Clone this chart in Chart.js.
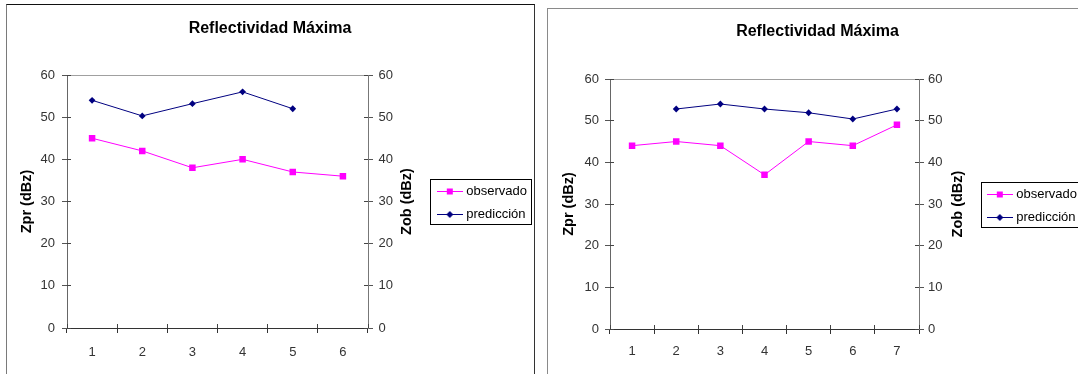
<!DOCTYPE html>
<html>
<head>
<meta charset="utf-8">
<script src="https://cdn.jsdelivr.net/npm/chart.js@4.4.1/dist/chart.umd.min.js"></script>
<style>
  html, body { margin: 0; padding: 0; width: 1078px; height: 374px; overflow: hidden; background: #fff; }
  .frame { position: absolute; height: 420px; }
  #frameA { left: 6px; top: 4px; width: 527px; border-top: 1px solid #111; border-left: 1px solid #7a7a7a; border-right: 1px solid #333; }
  #frameB { left: 547px; top: 8px; width: 620px; border-top: 1px solid #8a8a8a; border-left: 1px solid #8a8a8a; }
  canvas { position: absolute; }
  #chartA { left: 3px; top: 5px; }
  #chartB { left: 548px; top: 9px; }
</style>
</head>
<body>
<div class="frame" id="frameA"></div>
<div class="frame" id="frameB"></div>
<canvas id="chartA" width="534" height="396"></canvas>
<canvas id="chartB" width="539" height="394"></canvas>
<script>
// Texts shared by both panels
const chartTitle = 'Reflectividad Máxima';
const leftAxisTitle = 'Zpr (dBz)';
const rightAxisTitle = 'Zob (dBz)';
const seriesNames = ['observado', 'predicción'];

// Value axis range (both axes use the same one)
const axisMin = 0;
const axisMax = 60;
const axisStep = 10;

// First panel: six cases
const categoriesA = ['1', '2', '3', '4', '5', '6'];
const observadoA = [45, 42, 38, 40, 37, 36];
const prediccionA = [54, 50.3, 53.2, 56, 52, null];

// Second panel: seven cases
const categoriesB = ['1', '2', '3', '4', '5', '6', '7'];
const observadoB = [44, 45, 44, 37, 45, 44, 49];
const prediccionB = [null, 52.8, 54, 52.8, 51.9, 50.4, 52.8];

const FAMILY = '"Liberation Sans", Arial, sans-serif';
Chart.defaults.font.family = FAMILY;

const COLOR_OBS = '#FF00FF';
const COLOR_PRED = '#000080';

// Small line-with-marker swatch used as the legend symbol
function legendSymbol(color, marker) {
  const c = document.createElement('canvas');
  c.width = 26; c.height = 13;
  const g = c.getContext('2d');
  g.strokeStyle = color;
  g.lineWidth = 1;
  g.beginPath(); g.moveTo(0, 6.5); g.lineTo(26, 6.5); g.stroke();
  g.fillStyle = color;
  g.beginPath();
  if (marker === 'rect') {
    g.rect(10, 3.5, 6, 6);
  } else {
    g.moveTo(13, 3); g.lineTo(16.5, 6.5); g.lineTo(13, 10); g.lineTo(9.5, 6.5); g.closePath();
  }
  g.fill();
  return c;
}

// Cross-through tick halves, the right-hand axis title and the legend frame
const frameDetails = {
  id: 'frameDetails',
  afterDraw(chart, args, opts) {
    const ctx = chart.ctx;
    const area = chart.chartArea;
    const sx = chart.scales.x, sy = chart.scales.y, sy1 = chart.scales.y1;
    const al = p => Math.round(p - 0.5) + 0.5;
    ctx.save();
    ctx.lineWidth = 1;
    ctx.strokeStyle = '#444';
    ctx.beginPath();
    const n = chart.data.labels.length;
    for (let i = 0; i <= n; i++) {
      const px = al(sx.left + (sx.right - sx.left) * i / n);
      ctx.moveTo(px, area.bottom); ctx.lineTo(px, area.bottom - 4);
    }
    sy.ticks.forEach(t => {
      const py = al(sy.getPixelForValue(t.value));
      ctx.moveTo(area.left, py); ctx.lineTo(area.left + 4, py);
    });
    sy1.ticks.forEach(t => {
      const py = al(sy1.getPixelForValue(t.value));
      ctx.moveTo(area.right, py); ctx.lineTo(area.right - 4, py);
    });
    ctx.stroke();

    // right axis title, reading bottom to top like the left one
    const t = sy1.options.title;
    ctx.save();
    ctx.fillStyle = t.color;
    ctx.font = Chart.helpers.toFont(t.font).string;
    ctx.textAlign = 'center';
    ctx.textBaseline = 'middle';
    ctx.translate(area.right + opts.rightTitleOffset, (area.top + area.bottom) / 2);
    ctx.rotate(-Math.PI / 2);
    ctx.fillText(t.text, 0, 0);
    ctx.restore();

    // legend frame
    const hb = chart.legend.legendHitBoxes;
    if (hb && hb.length) {
      const l = hb[0].left - opts.legendInset;
      const top = hb[0].top - 6;
      const r = Math.max(...hb.map(h => h.left + h.width)) + 4;
      const last = hb[hb.length - 1];
      const b = last.top + last.height + 3;
      ctx.strokeStyle = '#000';
      ctx.strokeRect(al(l), al(top), Math.round(r - l), Math.round(b - top));
    }
    ctx.restore();
  }
};

function buildChart(canvasId, categories, observado, prediccion, L) {
  const markers = ['rect', 'rectRot'];
  const colors = [COLOR_OBS, COLOR_PRED];
  return new Chart(document.getElementById(canvasId), {
    type: 'line',
    data: {
      labels: categories,
      datasets: [
        {
          label: seriesNames[0], data: observado, yAxisID: 'y1',
          borderColor: COLOR_OBS, backgroundColor: COLOR_OBS, borderWidth: 1,
          pointStyle: 'rect', pointRadius: 4.6, pointHoverRadius: 4.6, pointBorderWidth: 0,
          tension: 0
        },
        {
          label: seriesNames[1], data: prediccion, yAxisID: 'y',
          borderColor: COLOR_PRED, backgroundColor: COLOR_PRED, borderWidth: 1,
          pointStyle: 'rectRot', pointRadius: 3.4, pointHoverRadius: 3.4, pointBorderWidth: 0,
          tension: 0
        }
      ]
    },
    options: {
      responsive: false,
      animation: false,
      devicePixelRatio: 1,
      events: [],
      layout: { padding: 0 },
      plugins: {
        title: {
          display: true, text: chartTitle, color: '#000',
          font: { size: 16, weight: 'bold', lineHeight: 1.2 },
          padding: { top: L.titleTop, bottom: L.titleBottom }
        },
        legend: {
          position: 'right', align: 'center', maxWidth: 220,
          labels: {
            usePointStyle: true, pointStyleWidth: 20, padding: 10,
            color: '#000', font: { size: 13 },
            generateLabels: chart => chart.data.datasets.map((ds, i) => ({
              text: ds.label,
              pointStyle: legendSymbol(colors[i], markers[i]),
              fillStyle: colors[i], strokeStyle: colors[i], lineWidth: 0,
              hidden: false, datasetIndex: i, fontColor: '#000'
            }))
          }
        },
        tooltip: { enabled: false },
        frameDetails: { rightTitleOffset: L.rightTitleOffset, legendInset: L.legendInset }
      },
      scales: {
        x: {
          type: 'category', offset: true,
          grid: { offset: true, drawOnChartArea: false, tickLength: 5, color: '#333', tickColor: '#333' },
          border: { color: '#333' },
          ticks: { padding: L.xPad, color: '#333', font: { size: 13 }, maxRotation: 0, autoSkip: false },
          afterFit: s => { s.height = L.xHeight; }
        },
        y: {
          position: 'left', min: axisMin, max: axisMax,
          ticks: { stepSize: axisStep, padding: L.yPad, color: '#333', font: { size: 13 } },
          grid: { color: c => c.tick && c.tick.value === axisMax ? '#a0a0a0' : 'rgba(0,0,0,0)', tickColor: '#555', tickLength: 5 },
          border: { color: '#666' },
          title: { display: true, text: leftAxisTitle, color: '#000', font: { size: 14.5, weight: 'bold' }, padding: { top: L.yTitlePad, bottom: 0 } },
          afterFit: s => { s.width = L.plotLeft; }
        },
        y1: {
          position: 'right', min: axisMin, max: axisMax,
          ticks: { stepSize: axisStep, padding: L.y1Pad, color: '#333', font: { size: 13 } },
          grid: { drawOnChartArea: false, tickColor: '#555', tickLength: 5 },
          border: { color: '#777' },
          title: { display: false, text: rightAxisTitle, color: '#000', font: { size: 14.5, weight: 'bold', family: FAMILY } },
          afterFit: s => { s.width = s.chart.width - s.chart.legend.width - L.plotRight; }
        }
      }
    },
    plugins: [frameDetails]
  });
}

buildChart('chartA', categoriesA, observadoA, prediccionA, {
  titleTop: 13.7, titleBottom: 37.1,
  plotLeft: 64, plotRight: 365, xHeight: 73,
  xPad: 12, yPad: 7, y1Pad: 5.5, yTitlePad: 15.5,
  rightTitleOffset: 39, legendInset: 9.5
});

buildChart('chartB', categoriesB, observadoB, prediccionB, {
  titleTop: 13.1, titleBottom: 37.7,
  plotLeft: 62, plotRight: 371, xHeight: 74,
  xPad: 10, yPad: 6, y1Pad: 4, yTitlePad: 12.5,
  rightTitleOffset: 39, legendInset: 8
});
</script>
</body>
</html>
